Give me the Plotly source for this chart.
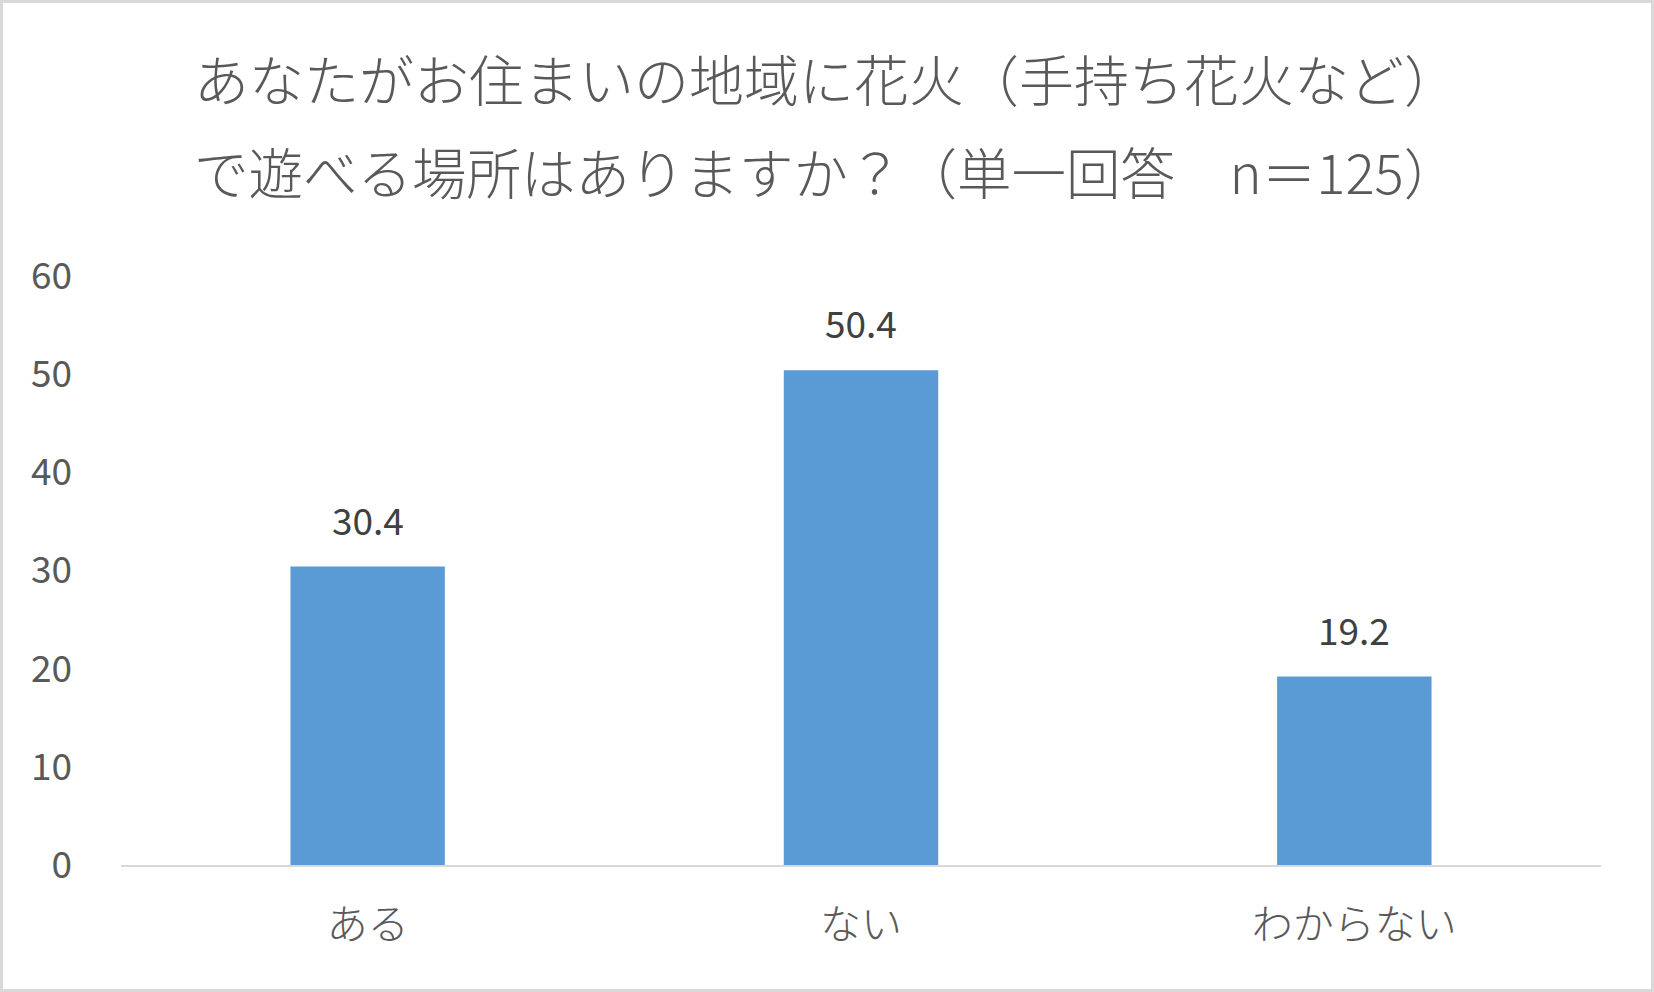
import plotly.graph_objects as go

## Data
categories = ["ある", "ない", "わからない"]
values = [30.4, 50.4, 19.2]
value_labels = ["30.4", "50.4", "19.2"]
tick_vals = [0, 10, 20, 30, 40, 50, 60]
title_lines = [
    "あなたがお住まいの地域に花火（手持ち花火など）",
    "で遊べる場所はありますか？（単一回答　n＝125）",
]

W, H = 1654, 992
ML, MR, MT, MB = 121, 53, 276, 127
PW, PH = W - ML - MR, H - MT - MB
FONT = "Noto Sans CJK JP"


def px_x(px):
    return (px - ML) / PW


def px_y(py):
    return (H - MB - py) / PH


fig = go.Figure(go.Bar(x=categories, y=values, marker_color="#5B9BD5",
                       marker_line_width=0, hoverinfo="skip"))

# data labels above bars
for cat, val, lab in zip(categories, values, value_labels):
    fig.add_annotation(x=cat, y=val, text=lab, showarrow=False,
                       yanchor="bottom", yshift=19,
                       font=dict(family=FONT, size=37, color="#404040"))

# title, two lines
for text, py, fs in zip(title_lines, [77, 170], [55, 54.5]):
    fig.add_annotation(xref="paper", yref="paper", x=px_x(826), y=px_y(py),
                       text=text, showarrow=False, xanchor="center", yanchor="middle",
                       font=dict(family=FONT, size=fs, color="#595959", weight=300))

# outer border
fig.add_shape(type="rect", xref="paper", yref="paper",
              x0=px_x(1.5), x1=px_x(W - 1.5), y0=px_y(H - 1.5), y1=px_y(1.5),
              line=dict(color="#d9d9d9", width=3), fillcolor="rgba(0,0,0,0)")

fig.update_layout(
    width=W, height=H,
    margin=dict(l=ML, r=MR, t=MT, b=MB),
    paper_bgcolor="white", plot_bgcolor="white",
    bargap=0.687, showlegend=False,
    font=dict(family=FONT, color="#595959"),
)
fig.update_xaxes(showline=True, linecolor="#d9d9d9", linewidth=2,
                 showgrid=False, ticks="", ticklabelstandoff=23,
                 tickfont=dict(family=FONT, size=41, color="#595959", weight=300))
fig.update_yaxes(range=[0, 60], tickvals=tick_vals, showgrid=False,
                 zeroline=False, showline=False, ticks="", ticklabelstandoff=48,
                 tickfont=dict(family=FONT, size=37, color="#595959"))

# page body has an 8px default margin; drop it so the figure sits at 0,0
fig.write_html("out.html", config={"displayModeBar": False},
               post_script="document.body.style.margin='0';")
